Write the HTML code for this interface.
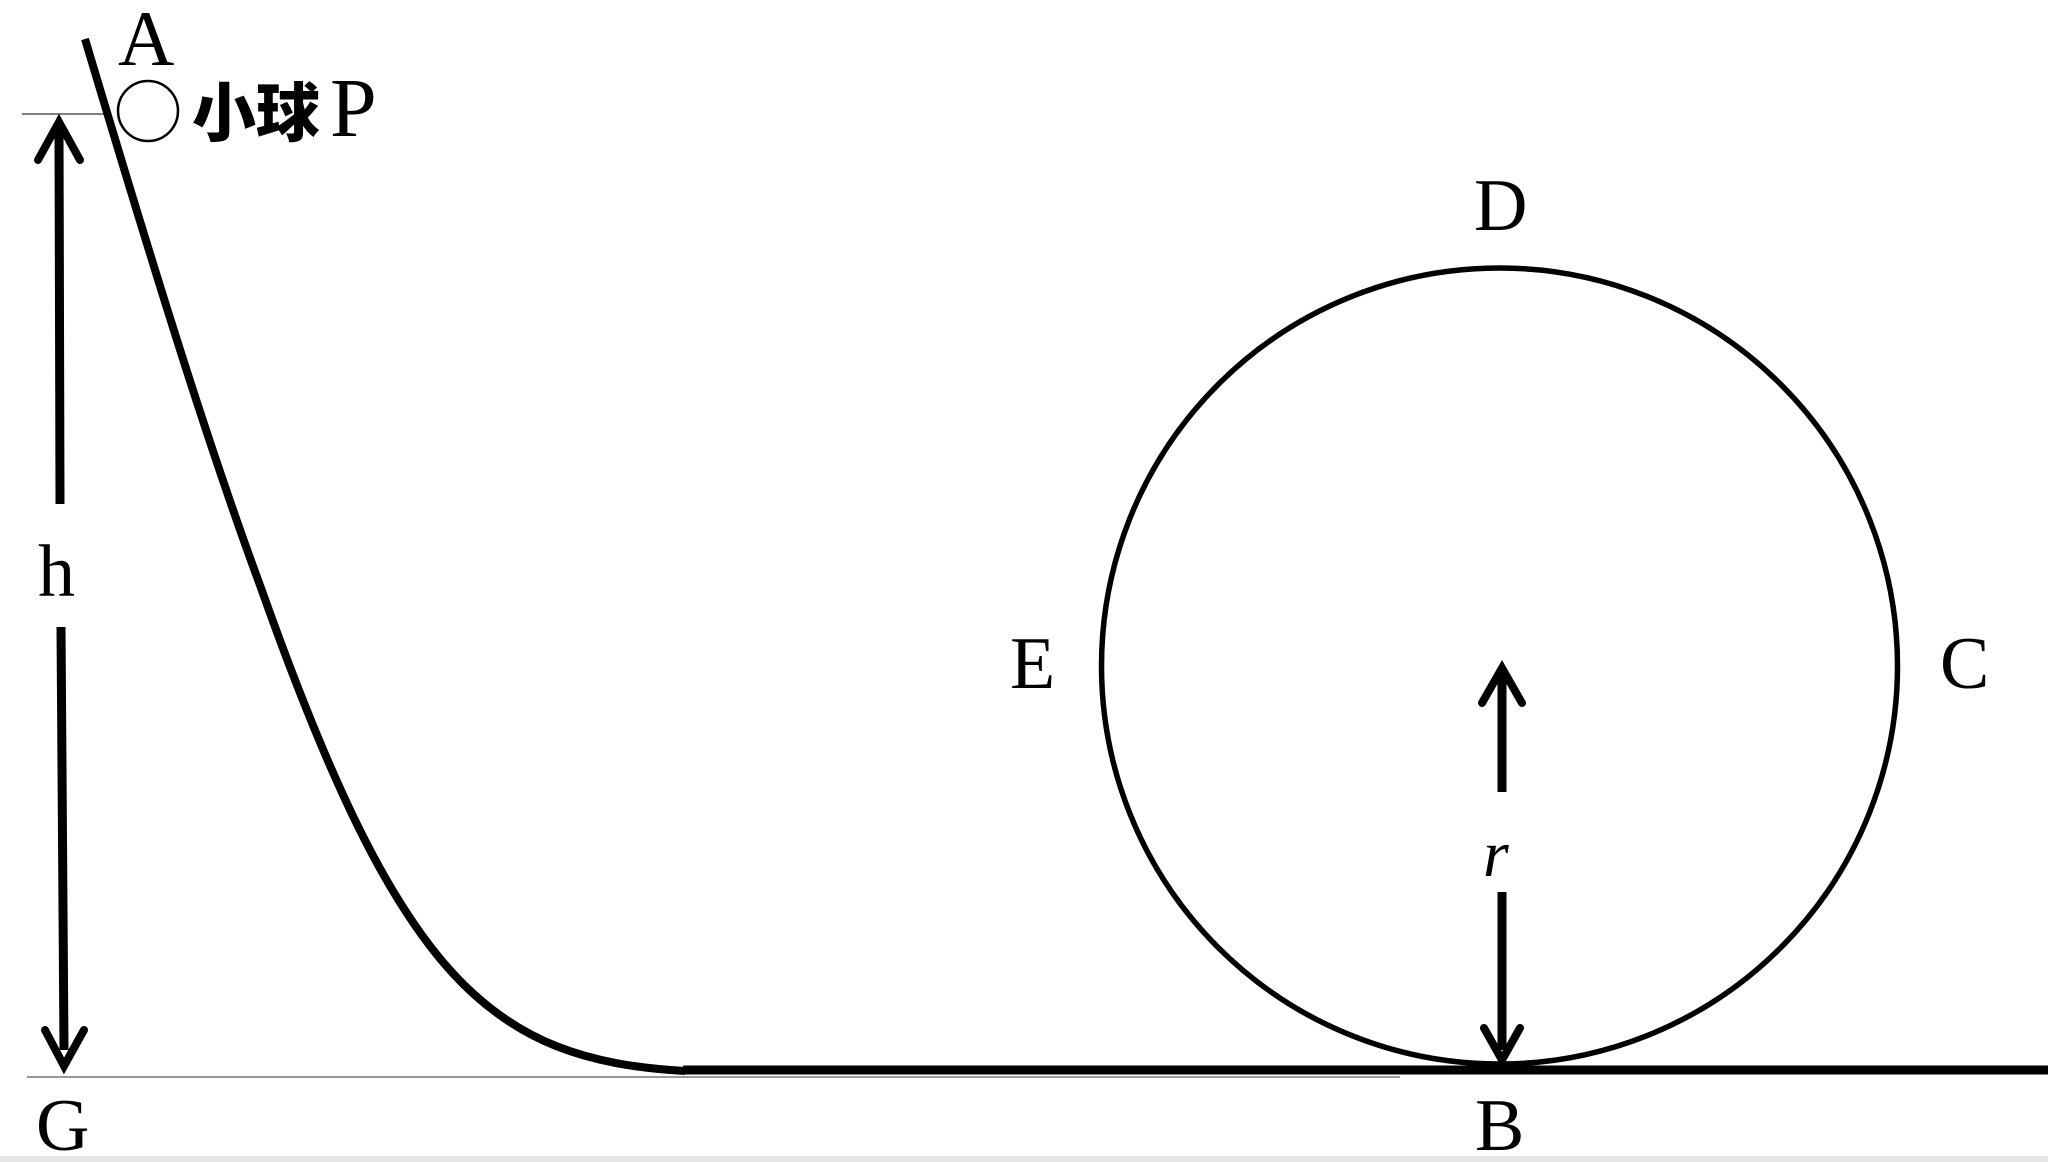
<!DOCTYPE html>
<html><head><meta charset="utf-8"><style>
html,body{margin:0;padding:0;background:#fff;}
svg{display:block;}
text{font-family:"Liberation Serif","Noto Serif CJK SC",serif;fill:#000;}
</style></head><body>
<svg width="2048" height="1162" viewBox="0 0 2048 1162" xmlns="http://www.w3.org/2000/svg">
<rect x="0" y="1156" width="2048" height="6" fill="#e6e6e6"/>
<line x1="22" y1="114" x2="104" y2="114" stroke="#555" stroke-width="1.5"/>
<line x1="27" y1="1077" x2="1400" y2="1077" stroke="#777" stroke-width="1.5"/>
<path d="M85,39 C160,290 210,450 261,588 C400,980 490,1060 685,1071" fill="none" stroke="#000" stroke-width="8"/>
<line x1="683" y1="1070" x2="2048" y2="1070" stroke="#000" stroke-width="9"/>
<circle cx="1499.5" cy="666" r="398" fill="none" stroke="#000" stroke-width="5.5"/>
<circle cx="148" cy="111" r="30" fill="none" stroke="#000" stroke-width="2.5"/>
<line x1="59" y1="130" x2="60" y2="504" stroke="#000" stroke-width="9"/>
<path d="M38,160 L59,122 L80,160" fill="none" stroke="#000" stroke-width="8" stroke-linecap="round"/>
<line x1="61" y1="627" x2="64" y2="1050" stroke="#000" stroke-width="9"/>
<path d="M45,1030 L64,1066 L84,1030" fill="none" stroke="#000" stroke-width="8" stroke-linecap="round"/>
<line x1="1502" y1="675" x2="1502" y2="792" stroke="#000" stroke-width="9"/>
<path d="M1482,703 L1502,668 L1522,703" fill="none" stroke="#000" stroke-width="8" stroke-linecap="round"/>
<line x1="1502" y1="892" x2="1502" y2="1050" stroke="#000" stroke-width="9"/>
<path d="M1484,1028 L1502,1060 L1520,1028" fill="none" stroke="#000" stroke-width="8" stroke-linecap="round"/>
<text x="118" y="65" font-size="78">A</text>
<text x="192" y="136" style="font-family:'Noto Sans CJK SC',sans-serif;font-weight:900;font-size:64px">小球</text>
<text x="330" y="136" font-size="84">P</text>
<text x="1474" y="230" font-size="74">D</text>
<text x="1010" y="688" font-size="74">E</text>
<text x="1940" y="688" font-size="74">C</text>
<text x="36" y="1150" font-size="74">G</text>
<text x="1475" y="1150" font-size="74">B</text>
<text x="38" y="596" font-size="74">h</text>
<text x="1483" y="876" font-size="66" font-style="italic">r</text>
</svg>
</body></html>
